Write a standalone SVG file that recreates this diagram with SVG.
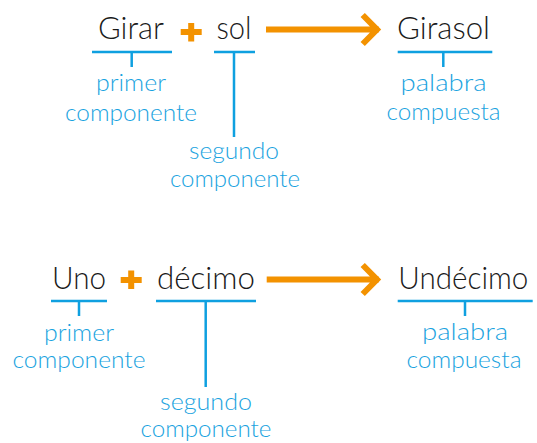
<svg xmlns="http://www.w3.org/2000/svg" width="537" height="443" viewBox="0 0 537 443">
<style>
.w{font-family:Lato,"Open Sans","Liberation Sans",sans-serif;font-weight:300;font-size:31px;fill:#1a1a1a;text-anchor:middle}
.l{font-family:Lato,"Open Sans","Liberation Sans",sans-serif;font-weight:300;font-size:23px;fill:#1aa3e0;text-anchor:middle}
.b{stroke:#0fa0e0;stroke-width:2.5;fill:none}
.o{stroke:#f39200;stroke-width:6;fill:none}
</style>
<rect width="537" height="443" fill="#fff"/>
<g id="girar">
<text class="w" x="131" y="39" textLength="66" lengthAdjust="spacingAndGlyphs">Girar</text>
<path class="b" d="M92 52H172M131.7 52V67"/>
<text class="l" x="131" y="91" textLength="70" lengthAdjust="spacingAndGlyphs">primer</text>
<text class="l" x="131" y="121" textLength="132" lengthAdjust="spacingAndGlyphs">componente</text>
</g>
<g id="plus1"><path class="o" d="M180.7 32H201.7M191.2 23V41.5"/></g>
<g id="sol">
<text class="w" x="234" y="39" textLength="35" lengthAdjust="spacingAndGlyphs">sol</text>
<path class="b" d="M214 52H255M234 52V137"/>
<text class="l" x="234" y="159" textLength="90" lengthAdjust="spacingAndGlyphs">segundo</text>
<text class="l" x="235" y="187" textLength="130" lengthAdjust="spacingAndGlyphs">componente</text>
</g>
<g id="girasol">
<text class="w" x="443.5" y="39" textLength="93" lengthAdjust="spacingAndGlyphs">Girasol</text>
<path class="b" d="M397.7 52H492.3M443.3 52V67"/>
<text class="l" x="443.5" y="91" textLength="86" lengthAdjust="spacingAndGlyphs">palabra</text>
<text class="l" x="443.5" y="120" textLength="114" lengthAdjust="spacingAndGlyphs">compuesta</text>
</g>
<g id="uno">
<text class="w" x="79" y="289" textLength="54" lengthAdjust="spacingAndGlyphs">Uno</text>
<path class="b" d="M51 301H107M79 301V316"/>
<text class="l" x="79" y="341" textLength="70" lengthAdjust="spacingAndGlyphs">primer</text>
<text class="l" x="79" y="368" textLength="133" lengthAdjust="spacingAndGlyphs">componente</text>
</g>
<g id="plus2"><path class="o" d="M120.7 280H141.7M131.2 270.5V289"/></g>
<g id="decimo">
<text class="w" x="206" y="289" textLength="98" lengthAdjust="spacingAndGlyphs">décimo</text>
<path class="b" d="M156 301H256M205.7 301V387"/>
<text class="l" x="206" y="410" textLength="92" lengthAdjust="spacingAndGlyphs">segundo</text>
<text class="l" x="206" y="437" textLength="131" lengthAdjust="spacingAndGlyphs">componente</text>
</g>
<g id="undecimo">
<text class="w" x="463.3" y="289" textLength="130" lengthAdjust="spacingAndGlyphs">Undécimo</text>
<path class="b" d="M397.7 301H532.7M465 301V316"/>
<text class="l" x="465" y="340" textLength="86" lengthAdjust="spacingAndGlyphs">palabra</text>
<text class="l" x="464" y="368" textLength="115" lengthAdjust="spacingAndGlyphs">compuesta</text>
</g>
<g id="connectors">
<path class="o" d="M266 29.5H379M362.7 15L377 29.5L362.7 44"/>
<path class="o" d="M266.7 279.5H379M362.7 265L377 279.5L362.7 294"/>
</g>
</svg>
